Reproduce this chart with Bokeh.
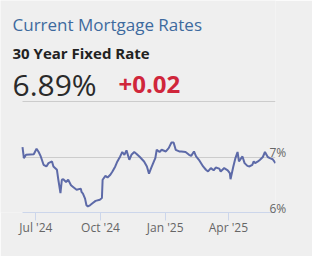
import pandas as pd
from bokeh.plotting import figure
from bokeh.models import Range1d, FixedTicker, DatetimeTickFormatter, Label, ColumnDataSource, LinearAxis
from bokeh.embed import file_html
from bokeh.resources import INLINE

# ---- data ----
dates = [
    "2024-06-12", "2024-06-14", "2024-06-17", "2024-06-28", "2024-07-02", "2024-07-05",
    "2024-07-08", "2024-07-12", "2024-07-16", "2024-07-19", "2024-07-24", "2024-07-26",
    "2024-07-31", "2024-08-02", "2024-08-05", "2024-08-07", "2024-08-09", "2024-08-13",
    "2024-08-16", "2024-08-20", "2024-08-23", "2024-08-28", "2024-09-03", "2024-09-04",
    "2024-09-06", "2024-09-09", "2024-09-11", "2024-09-13", "2024-09-16", "2024-09-20",
    "2024-09-24", "2024-09-30", "2024-10-03", "2024-10-04", "2024-10-08", "2024-10-11",
    "2024-10-15", "2024-10-18", "2024-10-22", "2024-10-25", "2024-10-29", "2024-11-01",
    "2024-11-04", "2024-11-07", "2024-11-11", "2024-11-14", "2024-11-18", "2024-11-21",
    "2024-11-26", "2024-12-02", "2024-12-06", "2024-12-09", "2024-12-12", "2024-12-16",
    "2024-12-18", "2024-12-20", "2024-12-24", "2024-12-27", "2025-01-02", "2025-01-06",
    "2025-01-10", "2025-01-13", "2025-01-16", "2025-01-21", "2025-01-24", "2025-01-30",
    "2025-02-04", "2025-02-07", "2025-02-11", "2025-02-14", "2025-02-18", "2025-02-24",
    "2025-02-28", "2025-03-03", "2025-03-07", "2025-03-11", "2025-03-14", "2025-03-19",
    "2025-03-21", "2025-03-26", "2025-03-31", "2025-04-03", "2025-04-04", "2025-04-08",
    "2025-04-11", "2025-04-14", "2025-04-16", "2025-04-21", "2025-04-24", "2025-04-28",
    "2025-05-01", "2025-05-05", "2025-05-07", "2025-05-09", "2025-05-13", "2025-05-16",
    "2025-05-20", "2025-05-23", "2025-05-27", "2025-05-30", "2025-06-03", "2025-06-07",
]
rates = [
    7.18, 6.98, 7.04, 7.05, 7.15, 7.09,
    7.01, 6.86, 6.83, 6.89, 6.92, 6.83,
    6.77, 6.59, 6.35, 6.59, 6.60, 6.55,
    6.59, 6.49, 6.46, 6.41, 6.43, 6.37,
    6.34, 6.25, 6.13, 6.11, 6.13, 6.17,
    6.21, 6.23, 6.26, 6.59, 6.66, 6.63,
    6.68, 6.74, 6.83, 6.92, 7.01, 7.09,
    7.04, 7.12, 6.95, 7.04, 7.09, 7.06,
    7.00, 6.92, 6.83, 6.70, 6.80, 6.92,
    6.98, 7.13, 7.09, 7.13, 7.10, 7.16,
    7.26, 7.26, 7.13, 7.10, 7.10, 7.09,
    7.04, 7.02, 7.10, 7.01, 6.95, 6.83,
    6.77, 6.74, 6.80, 6.76, 6.81, 6.79,
    6.74, 6.80, 6.76, 6.71, 6.60, 6.83,
    6.98, 7.09, 6.92, 7.01, 6.89, 6.84,
    6.83, 6.86, 6.92, 6.89, 6.92, 6.95,
    7.00, 7.09, 7.00, 6.98, 6.96, 6.89,
]
x_tick_dates = ["2024-07-01", "2024-10-01", "2025-01-01", "2025-04-01"]
y_ticks = [6, 7, 8]
y_tick_labels = ["6%", "7%", ""]
grid_ticks = [7, 8]
title_text = "Current Mortgage Rates"
subtitle_text = "30 Year Fixed Rate"
current_rate = "6.89%"
change_text = "+0.02"

# ---- layout geometry (pixels) ----
W, H = 312, 256
PLOT_L, PLOT_R = 22, 275      # where the line area starts / ends
FRAME_BOTTOM = 212            # y of the 6% axis line
PX_PER_PCT = 55.5

dt = pd.to_datetime(dates)
d0, d1 = dt.min(), dt.max()
span = d1 - d0
x_start = d0 - span * (PLOT_L / (PLOT_R - PLOT_L))
d0_ms, d1_ms = d0.value / 1e6, d1.value / 1e6
Y0 = 6
Y_TOP = Y0 + FRAME_BOTTOM / PX_PER_PCT
LABEL_LIFT = 0.075  # right-axis labels sit just above their gridline

src = ColumnDataSource(dict(date=dt, rate=rates))

BG = "#efefef"
FONT = "Open Sans"

p = figure(
    width=W, height=H, x_axis_type="datetime", y_axis_location=None,
    output_backend="svg", toolbar_location=None,
    x_range=Range1d(x_start, d1), y_range=Range1d(Y0, Y_TOP),
    min_border_left=0, min_border_right=W - PLOT_R, min_border_top=0,
    min_border_bottom=H - FRAME_BOTTOM,
    background_fill_color=BG, border_fill_color=BG, outline_line_color=None,
)
p.extra_y_ranges = {"lab": Range1d(Y0 - LABEL_LIFT, Y_TOP - LABEL_LIFT)}

p.ygrid.ticker = FixedTicker(ticks=grid_ticks)
p.ygrid.bounds = (Y0, Y_TOP)
p.ygrid.grid_line_color = "#cccccc"
p.ygrid.grid_line_width = 1
p.ygrid.cross_bounds = (d0_ms, d1_ms)
p.xgrid.grid_line_color = None

p.line(x="date", y="rate", source=src, line_color="#5d6aa8", line_width=2)

# y axis (right)
yax = LinearAxis(y_range_name="lab", ticker=FixedTicker(ticks=y_ticks),
                 major_label_overrides={t: l for t, l in zip(y_ticks, y_tick_labels)})
yax.axis_line_color = None
yax.major_tick_line_color = None
yax.minor_tick_line_color = None
yax.major_tick_out = 0
yax.major_tick_in = 0
yax.major_label_standoff = -6
yax.major_label_text_color = "#666666"
yax.major_label_text_font = FONT
yax.major_label_text_font_size = "12px"
p.add_layout(yax, "right")

# x axis
tick_ms = [pd.Timestamp(d).value / 1e6 for d in x_tick_dates]
p.xaxis.ticker = FixedTicker(ticks=tick_ms)
fmt = "%b '%y"
p.xaxis.formatter = DatetimeTickFormatter(days=fmt, months=fmt, years=fmt)
p.xaxis.bounds = (d0_ms, d1_ms)
p.xaxis.axis_line_color = "#ccd6eb"
p.xaxis.major_tick_line_color = "#ccd6eb"
p.xaxis.major_tick_out = 8
p.xaxis.major_tick_in = 0
p.xaxis.minor_tick_line_color = None
p.xaxis.major_label_standoff = -2
p.xaxis.major_label_text_color = "#666666"
p.xaxis.major_label_text_font = FONT
p.xaxis.major_label_text_font_size = "12px"

# header texts (screen units: from frame bottom-left, y up)
def add_label(x, y_base_px, text, size, color, style="normal"):
    p.add_layout(Label(x=x, y=FRAME_BOTTOM - y_base_px, x_units="screen", y_units="screen",
                       text=text, text_font=FONT, text_font_size=size, text_color=color,
                       text_font_style=style, text_baseline="alphabetic"))

add_label(12, 24, title_text, "17px", "#3d6a9e")
add_label(12, 52, subtitle_text, "15px", "#222222", "bold")
add_label(12, 84, current_rate, "30px", "#2a2a2a")
add_label(118, 84, change_text, "24px", "#d0263b", "bold")

open("out.html", "w").write(file_html(p, INLINE))
